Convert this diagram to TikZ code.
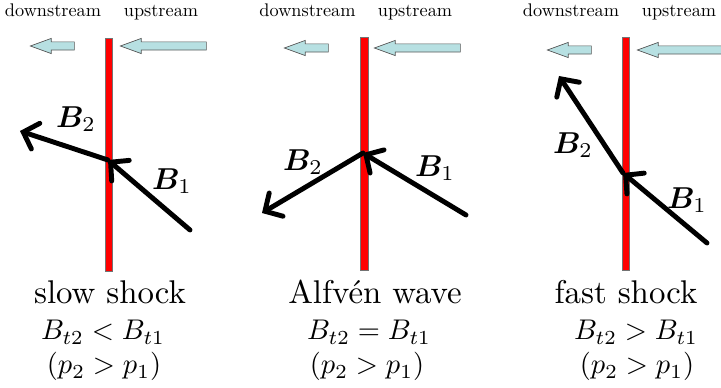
\documentclass[tikz,border=0pt]{standalone}
\usepackage{bm}
\usetikzlibrary{arrows.meta,shapes.arrows}
\definecolor{flowcyan}{RGB}{183,224,226}

\tikzset{
  small/.style={font=\fontsize{10.4}{12}\selectfont,anchor=base,inner sep=0pt},
  caption/.style={font=\normalsize,scale=1.87,anchor=base,inner sep=0pt},
  relation/.style={font=\normalsize,scale=1.62,anchor=base,inner sep=0pt},
  blabel/.style={font=\normalsize,scale=1.72,inner sep=0pt},
  flow/.style={single arrow,shape border rotate=180,fill=flowcyan,draw=black!65,line width=0.4pt,
    inner xsep=0pt,inner ysep=0.075cm,minimum width=0pt,single arrow head extend=0.07cm,
    single arrow tip angle=40},
  shockbar/.style={rectangle,fill=red,draw=black!55,line width=0.4pt,inner sep=0pt,minimum height=4.66cm},
  field/.style={line width=2.8pt,line cap=round,-{Straight Barb[length=2.6mm,width=5.4mm,line cap=round]}}
}

\begin{document}
\begin{tikzpicture}
\useasboundingbox (0,0) rectangle (14.42,7.76);
\clip (0,0) rectangle (14.42,7.76);
% Slow shock
\node[small] (dn1) at (1.06,7.42) {downstream};
\node[small] (up1) at (3.22,7.42) {upstream};
\node[flow,minimum height=0.88cm] (fd1) at (1.16,6.84) {};
\node[flow,minimum height=1.72cm] (fu1) at (3.38,6.84) {};
\node[shockbar,minimum width=0.14cm] (bar1) at (2.17,4.67) {};
\coordinate (j1) at (2.16,4.56);
\coordinate (t1) at (3.80,3.16);
\coordinate (h1) at (0.40,5.14);
\draw[field] (t1) -- (j1);
\draw[field] (j1) -- (h1);
\node[blabel] (b21) at (1.52,5.38) {$\bm{B}_2$};
\node[blabel] (b11) at (3.44,4.14) {$\bm{B}_1$};
\node[caption] (name1) at (2.20,1.68) {slow shock};
\node[relation] (rel1) at (2.06,0.96) {$B_{t2}<B_{t1}$};
\node[relation] (pr1) at (2.08,0.28) {$(p_2>p_1)$};
% Alfven wave
\node[small] (dn2) at (6.15,7.42) {downstream};
\node[small] (up2) at (8.30,7.42) {upstream};
\node[flow,minimum height=0.88cm] (fd2) at (6.24,6.80) {};
\node[flow,minimum height=1.72cm] (fu2) at (8.46,6.80) {};
\node[shockbar,minimum width=0.16cm] (bar2) at (7.28,4.68) {};
\coordinate (j2) at (7.26,4.70);
\coordinate (t2) at (9.32,3.46);
\coordinate (h2) at (5.24,3.50);
\draw[field] (t2) -- (j2);
\draw[field] (j2) -- (h2);
\node[blabel] (b22) at (6.06,4.52) {$\bm{B}_2$};
\node[blabel] (b12) at (8.70,4.40) {$\bm{B}_1$};
\node[caption] (name2) at (7.50,1.68) {Alfvén wave};
\node[relation] (rel2) at (7.38,0.96) {$B_{t2}=B_{t1}$};
\node[relation] (pr2) at (7.34,0.28) {$(p_2>p_1)$};
% Fast shock
\node[small] (dn3) at (11.42,7.42) {downstream};
\node[small] (up3) at (13.58,7.42) {upstream};
\node[flow,minimum height=0.88cm] (fd3) at (11.50,6.76) {};
\node[flow,minimum height=1.72cm] (fu3) at (13.72,6.76) {};
\node[shockbar,minimum width=0.14cm] (bar3) at (12.51,4.68) {};
\coordinate (j3) at (12.46,4.30);
\coordinate (t3) at (14.14,2.90);
\coordinate (h3) at (11.18,6.24);
\draw[field] (t3) -- (j3);
\draw[field] (j3) -- (h3);
\node[blabel] (b23) at (11.46,4.86) {$\bm{B}_2$};
\node[blabel] (b13) at (13.74,3.76) {$\bm{B}_1$};
\node[caption] (name3) at (12.52,1.68) {fast shock};
\node[relation] (rel3) at (12.72,0.96) {$B_{t2}>B_{t1}$};
\node[relation] (pr3) at (12.74,0.28) {$(p_2>p_1)$};
\end{tikzpicture}
\end{document}
